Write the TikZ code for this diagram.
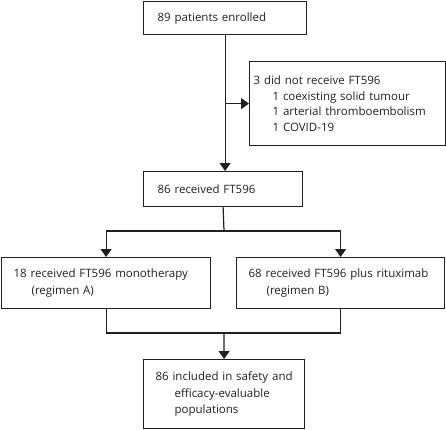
\documentclass[tikz,border=0pt]{standalone}
\usepackage{fontspec}
\setmainfont{Open Sans}
\usepackage{tikz}
\usetikzlibrary{arrows.meta,positioning,calc}
\definecolor{ink}{HTML}{231F20}

\begin{document}
\begin{tikzpicture}[
  x=1pt,y=-1pt,
  box/.style={draw=ink,line width=1.2pt,anchor=north west,align=left,
              font=\fontsize{11.5}{16.8}\selectfont,text=ink},
  arr/.style={-{Triangle[width=11pt,length=8pt]},line width=1.2pt,draw=ink},
  ln/.style={line width=1.2pt,draw=ink}
]
\useasboundingbox (0,0) rectangle (446,429);
\node[box,inner xsep=14pt,text width=135pt,minimum height=33pt] (enrol) at (143,1)
  {89 patients enrolled};
\node[box,inner xsep=4pt,text width=188pt,minimum height=84pt,
      font=\fontsize{11.5}{15.5}\selectfont] (excl) at (249,61)
  {3 did not receive FT596\\
   \hspace*{19pt}1 coexisting solid tumour\\
   \hspace*{19pt}1 arterial thromboembolism\\
   \hspace*{19pt}1 COVID-19};
\node[box,inner xsep=14pt,text width=131pt,minimum height=35pt] (recv) at (143,171)
  {86 received FT596};
\node[box,inner xsep=12pt,text width=185pt,minimum height=51pt] (regA) at (1,257)
  {18 received FT596 monotherapy\\\hspace*{18pt}(regimen A)};
\node[box,inner xsep=12pt,text width=184pt,minimum height=51pt] (regB) at (236,257)
  {68 received FT596 plus rituximab\\\hspace*{18pt}(regimen B)};
\node[box,inner xsep=10pt,text width=141pt,minimum height=69pt] (incl) at (143,359)
  {\hspace*{2pt}86 included in safety and\\
   \hspace*{21pt}efficacy-evaluable\\
   \hspace*{21pt}populations};
% connectors
\coordinate (split) at (224,231);
\coordinate (join) at (224,333);
\draw[arr] (enrol.south) -- (enrol.south |- recv.north);
\draw[arr] (enrol.south |- excl.west) -- (excl.west);
\draw[ln] (recv.south) -- (split);
\draw[ln] (regA.north |- split) -- (regB.north |- split);
\draw[arr] (regA.north |- split) -- (regA.north);
\draw[arr] (regB.north |- split) -- (regB.north);
\draw[ln] (regA.south) -- (regA.south |- join) -- (regB.south |- join) -- (regB.south);
\draw[arr] (join) -- (incl.north);
\end{tikzpicture}
\end{document}
